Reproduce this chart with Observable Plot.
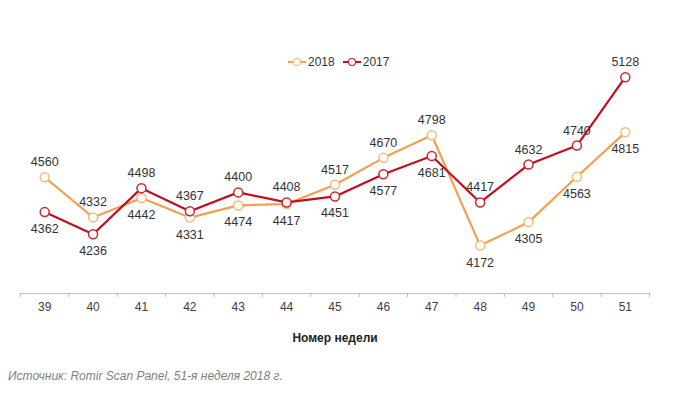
<!DOCTYPE html>
<html>
<head>
<meta charset="utf-8">
<script src="https://cdn.jsdelivr.net/npm/d3@7"></script>
<script src="https://cdn.jsdelivr.net/npm/@observablehq/plot@0.6"></script>
<style>
  body { margin: 0; background: #fff; font-family: "Liberation Sans", Arial, sans-serif; }
  #wrap { position: relative; width: 678px; height: 397px; overflow: hidden; }
  #legend { position: absolute; top: 55px; left: 288px; font-size: 12px; color: #333; display: flex; gap: 8px; align-items: center; }
  #legend span.item { display: inline-flex; align-items: center; gap: 2px; }
  #caption { position: absolute; top: 369px; left: 8px; font-size: 12px; font-style: italic; color: #7f7f7f; }
</style>
</head>
<body>
<div id="wrap">
  <div id="chart"></div>
  <div id="legend"></div>
  <div id="caption">Источник: Romir Scan Panel, 51-я неделя 2018 г.</div>
</div>
<script>
const weeks = [39, 40, 41, 42, 43, 44, 45, 46, 47, 48, 49, 50, 51];
const values2018 = [4560, 4332, 4442, 4331, 4400, 4408, 4517, 4670, 4798, 4172, 4305, 4563, 4815];
const values2017 = [4362, 4236, 4498, 4367, 4474, 4417, 4451, 4577, 4681, 4417, 4632, 4740, 5128];
const labels2018 = ["4560", "4332", "4442", "4331", "4474", "4417", "4517", "4670", "4798", "4172", "4305", "4563", "4815"];
const labels2017 = ["4362", "4236", "4498", "4367", "4400", "4408", "4451", "4577", "4681", "4417", "4632", "4740", "5128"];
const seriesNames = ["2018", "2017"];
const seriesColors = ["#f3a04e", "#c20e1f"];
const markerColors = ["#f5bb7c", "#c42a30"];
const xLabel = "Номер недели";

const rows = [];
weeks.forEach((w, i) => {
  rows.push({week: w, year: "2018", value: values2018[i], label: labels2018[i], above: values2018[i] > values2017[i]});
  rows.push({week: w, year: "2017", value: values2017[i], label: labels2017[i], above: values2017[i] >= values2018[i]});
});
const boundaries = d3.range(weeks[0] - 0.5, weeks[weeks.length - 1] + 1, 1);

const chart = Plot.plot({
  width: 678,
  height: 350,
  marginLeft: 20,
  marginRight: 29,
  marginTop: 64,
  marginBottom: 57,
  style: {fontFamily: "'Liberation Sans', Arial, sans-serif", fontSize: "12px", color: "#333", background: "#fff"},
  x: {type: "linear", domain: [weeks[0] - 0.5, weeks[weeks.length - 1] + 0.5]},
  y: {domain: [3900, 5200], axis: null},
  color: {domain: seriesNames, range: seriesColors},
  marks: [
    Plot.ruleY([3900], {stroke: "#bdbdbd", strokeWidth: 1}),
    Plot.axisX({ticks: boundaries, tickSize: 4, tickFormat: () => "", stroke: "#bdbdbd", label: null}),
    Plot.axisX({ticks: weeks, tickSize: 0, tickPadding: 9, tickFormat: d => String(d), fill: "#404040", fontSize: 12,
      label: xLabel, labelAnchor: "center", labelArrow: "none", labelOffset: 48}),
    Plot.line(rows, {x: "week", y: "value", z: "year", stroke: "year", strokeWidth: 2.2}),
    Plot.dot(rows, {x: "week", y: "value", r: 4.5, fill: "white", stroke: d => markerColors[seriesNames.indexOf(d.year)], strokeWidth: 1.5}),
    Plot.text(rows.filter(d => d.above), {x: "week", y: "value", text: "label", dy: -15, fill: "#333", fontSize: 12.5}),
    Plot.text(rows.filter(d => !d.above), {x: "week", y: "value", text: "label", dy: 17, fill: "#333", fontSize: 12.5})
  ]
});
chart.querySelectorAll("g[aria-label='x-axis label'] text").forEach(t => { t.style.fontWeight = "bold"; t.setAttribute("fill", "#222"); });
document.getElementById("chart").appendChild(chart);

const legend = document.getElementById("legend");
seriesNames.forEach((name, i) => {
  const item = document.createElement("span");
  item.className = "item";
  item.innerHTML = `<svg width="18" height="10"><line x1="0" y1="5" x2="18" y2="5" stroke="${seriesColors[i]}" stroke-width="2"/><circle cx="9" cy="5" r="3.5" fill="white" stroke="${markerColors[i]}" stroke-width="1.2"/></svg><span>${name}</span>`;
  legend.appendChild(item);
});
</script>
</body>
</html>
